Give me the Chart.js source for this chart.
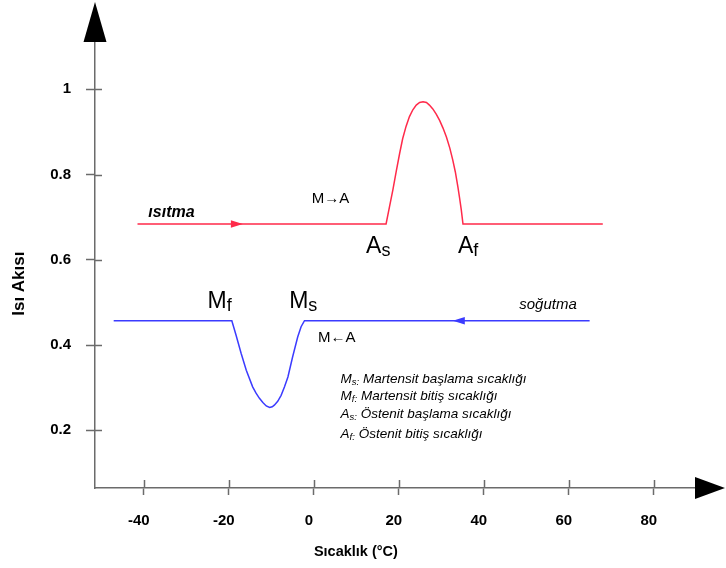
<!DOCTYPE html>
<html>
<head>
<meta charset="utf-8">
<script src="https://cdn.jsdelivr.net/npm/chart.js@4/dist/chart.umd.min.js"></script>
<style>
  html, body { margin: 0; padding: 0; background: #fff; }
  #wrap { width: 726px; height: 568px; }
</style>
</head>
<body>
<div id="wrap"><canvas id="chart"></canvas></div>
<script>
// ===== Data =====
const X_TICKS = [-40, -20, 0, 20, 40, 60, 80];
const Y_TICKS = [0.2, 0.4, 0.6, 0.8, 1];

// heating curve (ısıtma), M -> A peak
const heatX = [-41.5, 17.0, 17.8, 18.6, 19.4, 20.2, 20.9, 21.7, 22.5, 23.3, 24.1, 24.9, 25.7,
               26.5, 27.2, 28.0, 28.8, 29.6, 30.4, 31.2, 32.0, 32.7, 33.3, 33.9, 34.3, 34.7, 35.1, 68.0];
const heatY = [0.684, 0.684, 0.724, 0.764, 0.808, 0.850, 0.884, 0.913, 0.936, 0.952, 0.963, 0.969, 0.971,
               0.969, 0.963, 0.954, 0.942, 0.927, 0.909, 0.888, 0.862, 0.834, 0.806, 0.771, 0.745, 0.717, 0.684, 0.684];

// cooling curve (soğutma), M <- A dip
const coolX = [-47.1, -19.3, -18.3, -17.1, -15.9, -14.4, -13.6, -12.8, -12.0, -11.2, -10.4, -9.8, -9.3,
               -8.5, -7.7, -6.9, -6.1, -5.0, -3.8, -3.0, -2.2, 64.9];
const coolY = [0.457, 0.457, 0.423, 0.380, 0.341, 0.302, 0.287, 0.275, 0.265, 0.257, 0.2535, 0.255, 0.259,
               0.268, 0.282, 0.302, 0.325, 0.372, 0.419, 0.443, 0.457, 0.457];

// direction arrows on the curves: [x, y, dir]
const heatArrow = [-16.7, 0.684, 1];
const coolArrow = [32.7, 0.457, -1];

const LEGEND_LINES = [
  ['M', 's:', ' Martensit başlama sıcaklığı'],
  ['M', 'f:', ' Martensit bitiş sıcaklığı'],
  ['A', 's:', ' Östenit başlama sıcaklığı'],
  ['A', 'f:', ' Östenit bitiş sıcaklığı']
];

// ===== Style =====
const FONT = "'Liberation Sans', Arial, sans-serif";
const AXIS_COLOR = '#6b6b6b';
const RED = '#ff2a4a';
const BLUE = '#3b3bff';

const toPts = (xs, ys) => xs.map((x, i) => ({ x, y: ys[i] }));

// ===== Plugins =====
const decor = {
  id: 'decor',
  afterDraw(chart) {
    const { ctx, chartArea: a, scales: { x, y } } = chart;
    ctx.save();

    // inner halves of the tick marks
    ctx.strokeStyle = AXIS_COLOR; ctx.lineWidth = 1.5;
    X_TICKS.forEach(v => {
      const px = Math.round(x.getPixelForValue(v)) + 0.5;
      ctx.beginPath(); ctx.moveTo(px, a.bottom); ctx.lineTo(px, a.bottom - 8); ctx.stroke();
    });
    Y_TICKS.forEach(v => {
      const py = Math.round(y.getPixelForValue(v)) + 0.5;
      ctx.beginPath(); ctx.moveTo(a.left, py); ctx.lineTo(a.left + 7, py); ctx.stroke();
    });

    // axis arrowheads
    ctx.fillStyle = '#000';
    ctx.beginPath();
    ctx.moveTo(a.left, 2); ctx.lineTo(a.left - 11.5, a.top); ctx.lineTo(a.left + 11.5, a.top);
    ctx.closePath(); ctx.fill();
    ctx.beginPath();
    ctx.moveTo(a.right + 30, a.bottom); ctx.lineTo(a.right, a.bottom - 11); ctx.lineTo(a.right, a.bottom + 11);
    ctx.closePath(); ctx.fill();

    // direction arrows on curves
    const arrow = ([vx, vy, dir], color) => {
      const px = x.getPixelForValue(vx), py = y.getPixelForValue(vy);
      ctx.fillStyle = color;
      ctx.beginPath();
      ctx.moveTo(px, py); ctx.lineTo(px - dir * 12, py - 3.8); ctx.lineTo(px - dir * 12, py + 3.8);
      ctx.closePath(); ctx.fill();
    };
    arrow(heatArrow, RED);
    arrow(coolArrow, BLUE);

    // axis titles
    ctx.fillStyle = '#000';
    ctx.textAlign = 'center'; ctx.textBaseline = 'middle';
    ctx.font = `bold 14.5px ${FONT}`;
    ctx.fillText('Sıcaklık (°C)', x.getPixelForValue(9.9), 552);
    ctx.save();
    ctx.translate(19, y.getPixelForValue(0.544));
    ctx.rotate(-Math.PI / 2);
    ctx.font = `bold 17px ${FONT}`;
    ctx.fillText('Isı Akısı', 0, 0);
    ctx.restore();

    // curve labels
    const txt = (s, vx, vy, font) => {
      ctx.font = font;
      ctx.fillText(s, x.getPixelForValue(vx), y.getPixelForValue(vy));
    };
    txt('ısıtma', -33.5, 0.710, `italic bold 16px ${FONT}`);
    txt('M→A', 3.9, 0.742, `15px ${FONT}`);
    txt('soğutma', 55.1, 0.494, `italic 15px ${FONT}`);
    txt('M←A', 5.4, 0.416, `15px ${FONT}`);

    // big labels with subscripts (left edge, baseline)
    ctx.textAlign = 'left'; ctx.textBaseline = 'alphabetic';
    const sub = (main, s, vx, vy, big, small, drop) => {
      let px = x.getPixelForValue(vx);
      const py = y.getPixelForValue(vy);
      ctx.font = big; ctx.fillText(main, px, py);
      px += ctx.measureText(main).width;
      ctx.font = small; ctx.fillText(s, px, py + drop);
      return px + ctx.measureText(s).width;
    };
    const BIG = `23px ${FONT}`, SMALL = `18px ${FONT}`;
    sub('A', 's', 12.3, 0.6164, BIG, SMALL, 3);
    sub('A', 'f', 33.9, 0.6164, BIG, SMALL, 3);
    sub('M', 'f', -25.0, 0.4873, BIG, SMALL, 3);
    sub('M', 's', -5.8, 0.4873, BIG, SMALL, 3);

    // explanation block
    const rows = [0.312, 0.270, 0.228, 0.183];
    LEGEND_LINES.forEach(([m, s, rest], i) => {
      const end = sub(m, s, 6.3, rows[i], `italic 13.5px ${FONT}`, `italic 9.5px ${FONT}`, 2);
      ctx.font = `italic 13.5px ${FONT}`;
      ctx.fillText(rest, end, y.getPixelForValue(rows[i]));
    });

    ctx.restore();
  }
};

// ===== Chart =====
new Chart(document.getElementById('chart'), {
  type: 'line',
  data: {
    datasets: [
      { label: 'ısıtma', data: toPts(heatX, heatY), borderColor: RED, borderWidth: 1.5,
        pointRadius: 0, tension: 0 },
      { label: 'soğutma', data: toPts(coolX, coolY), borderColor: BLUE, borderWidth: 1.5,
        pointRadius: 0, tension: 0 }
    ]
  },
  options: {
    responsive: true,
    maintainAspectRatio: false,
    animation: false,
    layout: { padding: { top: 42, right: 31, left: 0, bottom: 0 } },
    plugins: { legend: { display: false }, tooltip: { enabled: false } },
    scales: {
      x: {
        type: 'linear', min: -51.5, max: 89.7,
        afterBuildTicks: s => { s.ticks = X_TICKS.map(v => ({ value: v })); },
        afterFit: s => { s.height = 80; },
        grid: { drawOnChartArea: false, tickLength: 7, tickColor: AXIS_COLOR, tickWidth: 1.5 },
        border: { color: AXIS_COLOR, width: 1.5 },
        ticks: { color: '#000', padding: 17, labelOffset: -5, maxRotation: 0,
                 font: { family: FONT, size: 15, weight: 'bold' },
                 callback: v => String(v) }
      },
      y: {
        type: 'linear', min: 0.0646, max: 1.111,
        afterBuildTicks: s => { s.ticks = Y_TICKS.map(v => ({ value: v })); },
        afterFit: s => { s.width = 95; },
        grid: { drawOnChartArea: false, tickLength: 9, tickColor: AXIS_COLOR, tickWidth: 1.5 },
        border: { color: AXIS_COLOR, width: 1.5 },
        ticks: { color: '#000', padding: 15, font: { family: FONT, size: 15, weight: 'bold' },
                 callback: v => String(v) }
      }
    }
  },
  plugins: [decor]
});
</script>
</body>
</html>
